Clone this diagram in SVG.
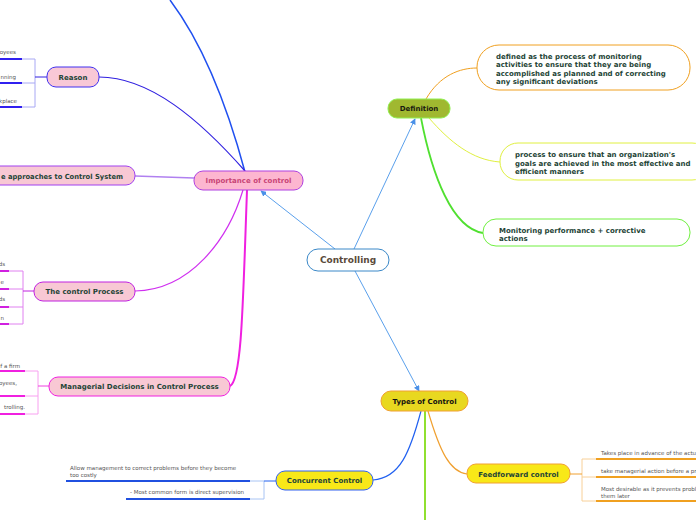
<svg xmlns="http://www.w3.org/2000/svg" width="696" height="520" viewBox="0 0 696 520">
<defs>
<marker id="arr" viewBox="0 0 8 8" refX="7" refY="4" markerWidth="6" markerHeight="6" orient="auto" markerUnits="userSpaceOnUse"><path d="M0,0 L8,4 L0,8 Z" fill="#4a90e8"/></marker>
<style>
.nt{font-family:"DejaVu Sans",Verdana,sans-serif;font-weight:bold;font-size:7px;fill:#1e4436;text-anchor:middle}
.dt{font-family:"DejaVu Sans",Verdana,sans-serif;font-weight:bold;font-size:7px;fill:#1e4436}
.lt{font-family:"DejaVu Sans",Verdana,sans-serif;font-size:5.5px;fill:#555}
.ltr{font-family:"DejaVu Sans",Verdana,sans-serif;font-size:5.5px;fill:#555;text-anchor:end}
.c{fill:none}
</style>
</defs>
<rect width="696" height="520" fill="#fff"/>
<g id="connectors">
<line x1="335" y1="249" x2="261" y2="191" stroke="#5aa0ec" stroke-width="1" marker-end="url(#arr)"/>
<line x1="354" y1="249" x2="415" y2="119" stroke="#5aa0ec" stroke-width="1" marker-end="url(#arr)"/>
<line x1="355" y1="271" x2="419" y2="391" stroke="#5aa0ec" stroke-width="1" marker-end="url(#arr)"/>
<path class="c" d="M245,172 Q215,60 170,0" stroke="#2050f0" stroke-width="1.5"/>
<path class="c" d="M99,77 C150,77 200,120 245,171" stroke="#3020e0" stroke-width="1.2"/>
<path class="c" d="M135,176 L194,178" stroke="#b080f0" stroke-width="1.5"/>
<path class="c" d="M135,291 C190,290 228,240 243,190" stroke="#d030f0" stroke-width="1.2"/>
<path class="c" d="M230,386 C242,380 243,300 247,190" stroke="#f020e0" stroke-width="2"/>
<path class="c" d="M426,99 C440,75 460,68 477,68" stroke="#f0a020" stroke-width="1"/>
<path class="c" d="M429,118 C450,142 472,160 500,162" stroke="#e0f040" stroke-width="1"/>
<path class="c" d="M421,118 C432,175 452,228 483,233" stroke="#50e030" stroke-width="1.8"/>
<path class="c" d="M421,411 C410,452 400,478 373,480" stroke="#2060f0" stroke-width="1.2"/>
<path class="c" d="M428,411 C440,452 450,472 467,474" stroke="#f0a030" stroke-width="1.2"/>
<path class="c" d="M425,411 L425,520" stroke="#90e030" stroke-width="2"/>
<path class="c" d="M22,59 H35 V107 H22 M22,83 H35" stroke="#a8a8f4" stroke-width="1"/>
<path class="c" d="M35,77 H47" stroke="#3020e0" stroke-width="1"/>
<path class="c" d="M0,59 H22 M0,83 H22 M0,107 H22" stroke="#3020f0" stroke-width="2"/>
<path class="c" d="M9,271 H23 V324 H9 M9,289 H23 M9,307 H23" stroke="#e080f0" stroke-width="1"/>
<path class="c" d="M23,291 H34" stroke="#c020e0" stroke-width="1"/>
<path class="c" d="M0,271 H9 M0,289 H9 M0,307 H9 M0,324 H9" stroke="#d020e0" stroke-width="2"/>
<path class="c" d="M25,371 H38 V414 H25 M25,396 H38" stroke="#f8a0f0" stroke-width="1"/>
<path class="c" d="M38,386 H49" stroke="#f040e0" stroke-width="1"/>
<path class="c" d="M0,371 H25 M0,396 H25 M0,414 H25" stroke="#f020e0" stroke-width="2"/>
<path class="c" d="M250,481 H264 V499 H250" stroke="#a8c4f4" stroke-width="1"/>
<path class="c" d="M264,481 H276" stroke="#2060f0" stroke-width="1"/>
<path class="c" d="M66,481 H250 M126,499 H250" stroke="#2050e0" stroke-width="2"/>
<path class="c" d="M596,459 H582 V501 H596 M582,477 H596" stroke="#f8d098" stroke-width="1"/>
<path class="c" d="M570,474 H582" stroke="#f0a030" stroke-width="1"/>
<path class="c" d="M596,459 H696 M596,477 H696 M596,501 H696" stroke="#f0a020" stroke-width="2"/>
</g>
<g id="controlling">
<rect x="307" y="249" width="82" height="22" rx="11" fill="#fff" stroke="#3a88c8" stroke-width="1"/>
<text x="348" y="263.2" class="nt" style="font-size:9px;fill:#5a4a3a">Controlling</text>
</g>
<g id="importance">
<rect x="194" y="171" width="109" height="19" rx="9" fill="#fdb6d0" stroke="#b040e0" stroke-width="1"/>
<text x="248.5" y="183" class="nt" style="fill:#c84476">Importance of control</text>
</g>
<g id="reason">
<rect x="47" y="67" width="52" height="20" rx="9" fill="#f9c8d6" stroke="#4030f0" stroke-width="1"/>
<text x="73" y="79.5" class="nt">Reason</text>
<text x="16" y="54" class="ltr">oyees</text>
<text x="16" y="79" class="ltr">nning</text>
<text x="17" y="103" class="ltr">kplace</text>
</g>
<g id="approaches">
<rect x="-20" y="166" width="155" height="19" rx="9" fill="#f8c8d4" stroke="#a040f0" stroke-width="1"/>
<text x="1" y="178.5" class="dt" textLength="122" lengthAdjust="spacingAndGlyphs">e approaches to Control System</text>
</g>
<g id="control-process">
<rect x="34" y="282" width="101" height="19" rx="9" fill="#f8c8d4" stroke="#c020e0" stroke-width="1"/>
<text x="84.5" y="294" class="nt">The control Process</text>
<text x="5" y="266" class="ltr">ds</text>
<text x="4" y="284" class="ltr">e</text>
<text x="5" y="301" class="ltr">ds</text>
<text x="4" y="320" class="ltr">n</text>
</g>
<g id="managerial">
<rect x="49" y="377" width="181" height="19" rx="9" fill="#f8c8d4" stroke="#f020e0" stroke-width="1"/>
<text x="139.5" y="389" class="nt">Managerial Decisions in Control Process</text>
<text x="20" y="368" class="ltr">f a firm</text>
<text x="17" y="385" class="ltr">oyees,</text>
<text x="25" y="409" class="ltr">trolling.</text>
</g>
<g id="definition">
<rect x="388" y="99" width="62" height="19" rx="9" fill="#a0b830" stroke="#90f050" stroke-width="1"/>
<text x="419" y="111" class="nt" style="fill:#1a1a10">Definition</text>
</g>
<g id="def1">
<rect x="477" y="45" width="213" height="45" rx="22" fill="#fff" stroke="#f0a020" stroke-width="1"/>
<text class="dt"><tspan x="496" y="58.5">defined as the process of monitoring</tspan><tspan x="496" y="67">activities to ensure that they are being</tspan><tspan x="496" y="75.5">accomplished as planned and of correcting</tspan><tspan x="496" y="84">any significant deviations</tspan></text>
</g>
<g id="def2">
<rect x="500" y="143" width="210" height="37" rx="18" fill="#fff" stroke="#e0f040" stroke-width="1"/>
<text class="dt"><tspan x="515" y="156.5">process to ensure that an organization's</tspan><tspan x="515" y="165.5">goals are achieved in the most effective and</tspan><tspan x="515" y="173.5">efficient manners</tspan></text>
</g>
<g id="def3">
<rect x="483" y="219" width="207" height="27" rx="13" fill="#fff" stroke="#70f040" stroke-width="1"/>
<text class="dt"><tspan x="499" y="232.5">Monitoring performance + corrective</tspan><tspan x="499" y="240.5">actions</tspan></text>
</g>
<g id="types">
<rect x="381" y="391" width="87" height="20" rx="10" fill="#e8d820" stroke="#f0a030" stroke-width="1"/>
<text x="424.5" y="403.5" class="nt" style="fill:#111">Types of Control</text>
</g>
<g id="concurrent">
<rect x="276" y="471" width="97" height="19" rx="9" fill="#f8e818" stroke="#3060f0" stroke-width="1"/>
<text x="324.5" y="483" class="nt">Concurrent Control</text>
<text class="lt"><tspan x="70" y="470">Allow management to correct problems before they become</tspan><tspan x="70" y="476.5">too costly</tspan></text>
<text x="130" y="494" class="lt">- Most common form is direct supervision</text>
</g>
<g id="feedforward">
<rect x="467" y="464" width="103" height="19" rx="9" fill="#f8e818" stroke="#f0a030" stroke-width="1"/>
<text x="518.5" y="476.5" class="nt">Feedforward control</text>
<text x="601" y="455" class="lt">Takes place in advance of the actu</text>
<text x="601" y="473" class="lt">take managerial action before a pr</text>
<text class="lt"><tspan x="601" y="491">Most desirable as it prevents probl</tspan><tspan x="601" y="497.5">them later</tspan></text>
</g>
</svg>
